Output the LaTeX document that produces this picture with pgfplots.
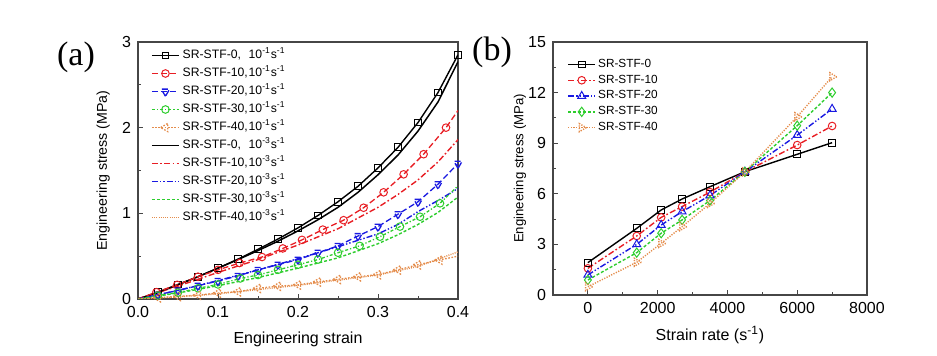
\documentclass[border=0pt]{standalone}
\usepackage{fontspec}
\setmainfont{Liberation Sans}
\newfontfamily\seriffont{Liberation Serif}
\usepackage{pgfplots}
\pgfplotsset{compat=1.18}
\definecolor{cR}{RGB}{232,30,36}
\definecolor{cB}{RGB}{25,25,225}
\definecolor{cG}{RGB}{45,205,45}
\definecolor{cO}{RGB}{228,140,75}
\definecolor{axc}{RGB}{70,70,70}
\newcommand{\lab}[2]{\makebox[33pt][l]{#1}10\textsuperscript{-#2}s\textsuperscript{-1}}
\pgfplotsset{
  common/.style={
    scale only axis,
    axis line style={axc, line width=0.6pt},
    tick style={axc, line width=0.5pt},
    tick align=inside, tick pos=left,
    major tick length=2.5pt, minor tick length=1.6pt,
    minor x tick num=1, minor y tick num=1,
    ticklabel style={font=\fontsize{8}{9}\selectfont},
    /pgf/number format/assume math mode=true,
    legend cell align=left,
    legend image code/.code={\draw[mark indices={2}] plot coordinates {(0pt,0pt)(6.75pt,0pt)(13.5pt,0pt)};},
  },
  mk/.style={mark options={solid, fill=white, line width=0.5pt}},
  sA/.style={draw=black, color=black, line width=0.7pt, mark=square, mark size=1.7pt, mk},
  sB/.style={draw=cR, color=cR, line width=0.65pt, dash pattern=on 3pt off 1.5pt, mark=o, mark size=1.9pt, mk},
  sC/.style={draw=cB, color=cB, line width=0.65pt, dash pattern=on 3pt off 1.5pt, mark=triangle, mark size=2.4pt, mk, mark options={rotate=180}},
  sD/.style={draw=cG, color=cG, line width=0.65pt, dash pattern=on 1.5pt off 1pt on 0.6pt off 1pt, mark=o, mark size=1.9pt, mk},
  sE/.style={draw=cO, color=cO, line width=0.65pt, dash pattern=on 0.8pt off 0.8pt, mark=triangle, mark size=2.4pt, mk, mark options={rotate=90}},
  tA/.style={draw=black, color=black, line width=0.75pt},
  tB/.style={draw=cR, color=cR, line width=0.7pt, dash pattern=on 3pt off 1.2pt on 0.8pt off 1.2pt},
  tC/.style={draw=cB, color=cB, line width=0.7pt, dash pattern=on 3pt off 1pt on 0.7pt off 1pt on 0.7pt off 1pt},
  tD/.style={draw=cG, color=cG, line width=0.7pt, dash pattern=on 1.5pt off 1pt},
  tE/.style={draw=cO, color=cO, line width=0.7pt, dash pattern=on 0.5pt off 0.6pt},
}
\begin{document}
\begin{tikzpicture}
\path[use as bounding box] (0,0) rectangle (468.5pt,178pt);
\node[font=\seriffont\fontsize{17}{17}\selectfont] at (38pt,149.5pt) {(a)};
\node[font=\seriffont\fontsize{17}{17}\selectfont] at (246pt,152pt) {(b)};
\begin{axis}[common, at={(69pt,28.5pt)}, anchor=south west, width=160pt, height=128.5pt,
  xmin=0, xmax=0.4, ymin=0, ymax=3, xtick={0,0.1,0.2,0.3,0.4}, ytick={0,1,2,3},
  xticklabel style={/pgf/number format/.cd,fixed,fixed zerofill,precision=1},
  xlabel={Engineering strain}, ylabel={Engineering stress (MPa)},
  xlabel style={font=\fontsize{8}{9}\selectfont, at={(axis description cs:0.5,-0.156)}, anchor=center},
  ylabel style={font=\fontsize{7.1}{8}\selectfont, at={(axis description cs:-0.109,0.5)}, anchor=center},
  legend style={draw=none, fill=none, inner sep=0pt, row sep=0pt, at={(axis description cs:0.04,0.984)}, anchor=north west,
    font=\fontsize{6.1}{7}\selectfont, nodes={text height=4.5pt, text depth=1.5pt, inner sep=1.5pt}},
]
\addlegendimage{sA}\addlegendentry{\lab{SR-STF-0,}{1}}
\addlegendimage{sB}\addlegendentry{\lab{SR-STF-10,}{1}}
\addlegendimage{sC}\addlegendentry{\lab{SR-STF-20,}{1}}
\addlegendimage{sD}\addlegendentry{\lab{SR-STF-30,}{1}}
\addlegendimage{sE}\addlegendentry{\lab{SR-STF-40,}{1}}
\addlegendimage{tA}\addlegendentry{\lab{SR-STF-0,}{3}}
\addlegendimage{tB}\addlegendentry{\lab{SR-STF-10,}{3}}
\addlegendimage{tC}\addlegendentry{\lab{SR-STF-20,}{3}}
\addlegendimage{tD}\addlegendentry{\lab{SR-STF-30,}{3}}
\addlegendimage{tE}\addlegendentry{\lab{SR-STF-40,}{3}}
\addplot[tA, forget plot] coordinates {
(0,0)(0.025,0.075)(0.05,0.165)(0.075,0.26)(0.1,0.36)(0.125,0.46)(0.15,0.565)(0.175,0.675)(0.2,0.795)(0.225,0.925)(0.25,1.07)(0.275,1.245)(0.3,1.45)(0.325,1.68)(0.35,1.96)(0.375,2.30)(0.4,2.77)};
\addplot[tB, forget plot] coordinates {
(0,0)(0.05,0.15)(0.1,0.31)(0.15,0.46)(0.2,0.63)(0.25,0.82)(0.3,1.07)(0.325,1.22)(0.35,1.39)(0.375,1.6)(0.4,1.86)};
\addplot[tC, forget plot] coordinates {
(0,0)(0.05,0.10)(0.1,0.215)(0.15,0.34)(0.2,0.47)(0.25,0.61)(0.3,0.76)(0.325,0.87)(0.35,1.02)(0.375,1.15)(0.4,1.29)};
\addplot[tD, forget plot] coordinates {
(0,0)(0.05,0.07)(0.1,0.155)(0.15,0.25)(0.2,0.36)(0.25,0.48)(0.3,0.645)(0.325,0.75)(0.35,0.87)(0.375,1.01)(0.4,1.19)};
\addplot[tE, forget plot] coordinates {
(0,0)(0.05,0.025)(0.1,0.06)(0.15,0.11)(0.2,0.16)(0.25,0.22)(0.3,0.28)(0.35,0.38)(0.4,0.55)};
\addplot[sA, forget plot, mark indices={2,3,4,5,6,7,8,9,10,11,12,13,14,15,16,17}] coordinates {
(0,0)(0.025,0.08)(0.05,0.17)(0.075,0.26)(0.1,0.36)(0.125,0.465)(0.15,0.58)(0.175,0.70)(0.2,0.83)(0.225,0.975)(0.25,1.135)(0.275,1.315)(0.3,1.53)(0.325,1.77)(0.35,2.06)(0.375,2.41)(0.4,2.85)};
\addplot[sB, forget plot, mark indices={2,3,4,5,6,7,8,9,10,11,12,13,14,15,16}] coordinates {
(0,0)(0.023,0.08)(0.049,0.165)(0.075,0.26)(0.1,0.34)(0.127,0.42)(0.155,0.49)(0.181,0.59)(0.205,0.69)(0.231,0.81)(0.257,0.92)(0.282,1.065)(0.307,1.245)(0.332,1.455)(0.357,1.69)(0.385,2.0)(0.4,2.2)};
\addplot[sC, forget plot, mark indices={2,3,4,5,6,7,8,9,10,11,12,13,14,15,16,17}] coordinates {
(0,0)(0.025,0.05)(0.05,0.10)(0.075,0.155)(0.1,0.21)(0.125,0.27)(0.15,0.34)(0.175,0.40)(0.2,0.46)(0.225,0.54)(0.25,0.62)(0.275,0.735)(0.3,0.845)(0.325,0.99)(0.35,1.135)(0.375,1.34)(0.4,1.58)};
\addplot[sD, forget plot, mark indices={2,3,4,5,6,7,8,9,10,11,12,13,14,15,16}] coordinates {
(0,0)(0.025,0.04)(0.05,0.075)(0.075,0.125)(0.1,0.17)(0.128,0.24)(0.15,0.28)(0.175,0.34)(0.2,0.40)(0.225,0.46)(0.25,0.54)(0.277,0.62)(0.3025,0.727)(0.3275,0.845)(0.3525,0.96)(0.3775,1.117)(0.4,1.32)};
\addplot[sE, forget plot, mark indices={2,3,4,5,6,7,8,9,10,11,12,13,14,15,16}] coordinates {
(0,0)(0.025,0.015)(0.05,0.03)(0.075,0.045)(0.1,0.07)(0.125,0.085)(0.15,0.125)(0.175,0.15)(0.2,0.165)(0.225,0.20)(0.25,0.23)(0.275,0.26)(0.3,0.285)(0.325,0.34)(0.35,0.40)(0.377,0.455)(0.4,0.50)};
\end{axis}
\begin{axis}[common, at={(276.5pt,30.5pt)}, anchor=south west, width=157pt, height=126.5pt,
  xmin=-1000, xmax=8000, ymin=0, ymax=15, xtick={0,2000,4000,6000,8000}, ytick={0,3,6,9,12,15},
  scaled x ticks=false, xticklabel style={/pgf/number format/1000 sep={}},
  xlabel={Strain rate (s\textsuperscript{-1})}, ylabel={Engineering stress (MPa)},
  xlabel style={font=\fontsize{8}{9}\selectfont, at={(axis description cs:0.5,-0.158)}, anchor=center},
  ylabel style={font=\fontsize{6.6}{8}\selectfont, at={(axis description cs:-0.105,0.5)}, anchor=center},
  legend style={draw=none, fill=none, inner sep=0pt, row sep=0pt, at={(axis description cs:0.045,0.944)}, anchor=north west,
    font=\fontsize{5.9}{7}\selectfont, nodes={text height=4.3pt, text depth=1.4pt, inner sep=1.1pt}},
]
\addplot[black, line width=0.7pt, mark=square, mark size=1.7pt, mk] coordinates {
(0,1.92)(1400,3.95)(2100,5.04)(2700,5.69)(3500,6.42)(4500,7.31)(6000,8.34)(7000,9.03)};
\addlegendentry{SR-STF-0}
\addplot[cR, line width=0.7pt, dash pattern=on 3pt off 1.2pt on 0.8pt off 1.2pt, mark=o, mark size=1.9pt, mk] coordinates {
(0,1.58)(1400,3.5)(2100,4.6)(2700,5.24)(3500,6.1)(4500,7.3)(6000,8.89)(7000,10.02)};
\addlegendentry{SR-STF-10}
\addplot[cB, line width=0.7pt, dash pattern=on 3pt off 1pt on 0.7pt off 1pt on 0.7pt off 1pt, mark=triangle, mark size=2.3pt, mk] coordinates {
(0,1.19)(1400,3.0)(2100,4.15)(2700,4.94)(3500,5.9)(4500,7.3)(6000,9.48)(7000,11.03)};
\addlegendentry{SR-STF-20}
\addplot[cG, line width=0.7pt, dash pattern=on 1.5pt off 1pt, mark=diamond, mark size=2.3pt, mk] coordinates {
(0,0.89)(1400,2.51)(2100,3.66)(2700,4.45)(3500,5.6)(4500,7.3)(6000,10.04)(7000,12.0)};
\addlegendentry{SR-STF-30}
\addplot[cO, line width=0.7pt, dash pattern=on 0.6pt off 0.7pt, mark=triangle, mark size=2.3pt, mk, mark options={rotate=-90}] coordinates {
(0,0.49)(1400,1.94)(2100,3.06)(2700,4.05)(3500,5.43)(4500,7.3)(6000,10.57)(7000,12.94)};
\addlegendentry{SR-STF-40}
\end{axis}
\end{tikzpicture}
\end{document}
